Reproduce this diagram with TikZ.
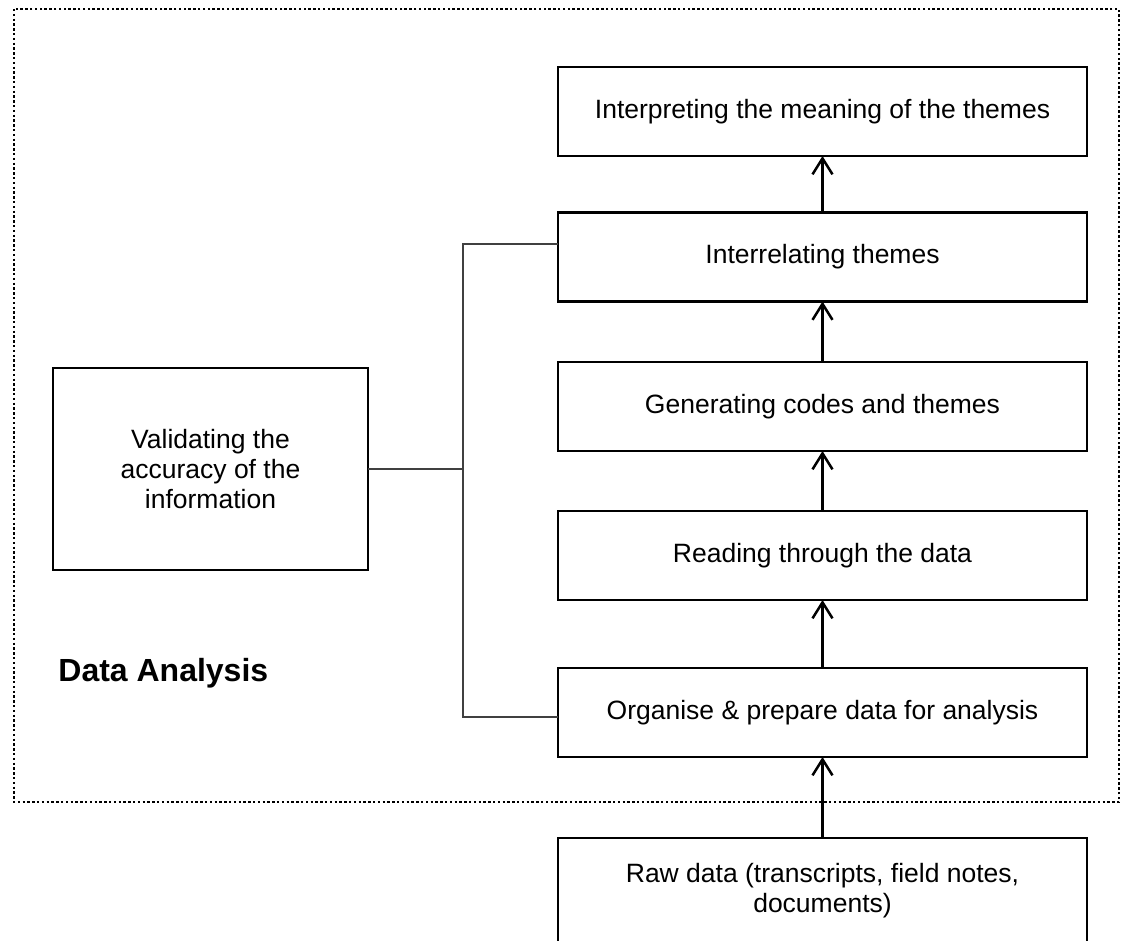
\documentclass[tikz,border=0pt]{standalone}
\usepackage{fontspec}
\setmainfont{Liberation Sans}
\usetikzlibrary{arrows.meta}
\begin{document}
\begin{tikzpicture}[x=0.5pt,y=-0.5pt,
  stage/.style={draw=black, line width=1.3pt, minimum width=264.5pt,
    minimum height=44.5pt, inner sep=0pt, outer sep=0pt,
    font=\fontsize{13.25}{15}\selectfont, align=center},
  flow/.style={line width=1.25pt,
    -{Straight Barb[length=8pt,width=10pt,line width=1.25pt]}},
  link/.style={line width=0.7pt, draw=black!75},
  frame/.style={line width=1.2pt, dash pattern=on 1.2pt off 1.2pt},
]
\useasboundingbox (0,0) rectangle (1121,941);

% dotted boundary of the analysis stage
\draw[frame] (14,9) rectangle (1119,802);

% main sequence of steps
\node[stage] (b1) at (822.5,111.5) {Interpreting the meaning of the themes};
\node[stage] (b2) at (822.5,257)   {Interrelating themes};
\node[stage] (b3) at (822.5,406.5) {Generating codes and themes};
\node[stage] (b4) at (822.5,555.5) {Reading through the data};
\node[stage] (b5) at (822.5,712.5) {Organise \& prepare data for analysis};
\node[stage, minimum height=53pt] (raw) at (822.5,891)
  {Raw data (transcripts, field notes,\\documents)};

% validation box on the left
\node[stage, minimum width=157.5pt, minimum height=101pt] (val) at (210.5,469)
  {Validating the\\accuracy of the\\information};

\node[anchor=base west, inner sep=0pt, font=\fontsize{16}{19}\selectfont\bfseries]
  (title) at (58,682) {Data Analysis};

% upward flow
\draw[flow] (raw.north) -- (b5.south);
\draw[flow] (b5.north) -- (b4.south);
\draw[flow] (b4.north) -- (b3.south);
\draw[flow] (b3.north) -- (b2.south);
\draw[flow] (b2.north) -- (b1.south);

% bracket linking validation to the steps
\coordinate (jt) at (463,244);
\coordinate (jb) at (463,717);
\draw[link] (b2.west |- jt) -- (jt) -- (jb) -- (b5.west |- jb);
\draw[link] (val.east) -- (val.east -| jt);
\end{tikzpicture}
\end{document}
